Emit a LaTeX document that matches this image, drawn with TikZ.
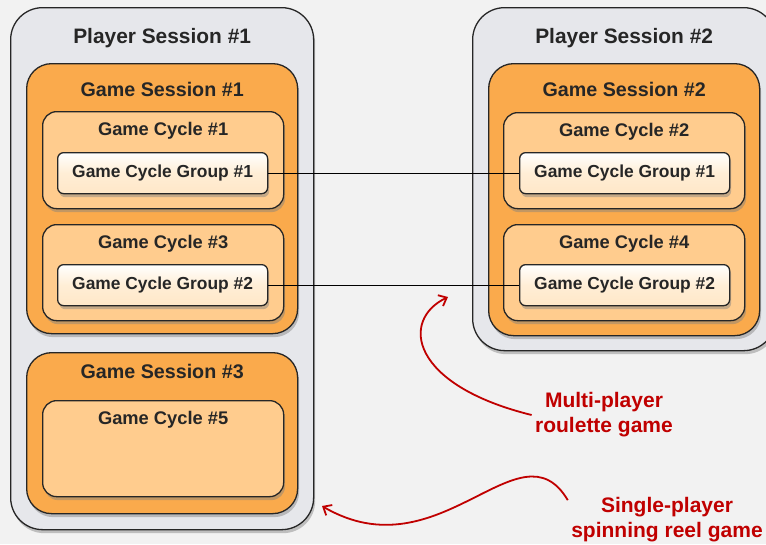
\documentclass[tikz,border=0pt]{standalone}
\usepackage{fontspec}
\setmainfont{Liberation Sans}
\usepackage{xcolor}
\usepackage{tikz}
\usetikzlibrary{positioning, arrows.meta, shadows}
\definecolor{bgGrey}{RGB}{242,242,242}
\definecolor{psGrey}{RGB}{230,231,235}
\definecolor{gsOrange}{RGB}{250,170,76}
\definecolor{gcOrange}{RGB}{255,204,142}
\definecolor{grpCream}{RGB}{255,238,214}
\definecolor{edgeGrey}{RGB}{38,38,38}
\definecolor{noteRed}{RGB}{192,0,0}

\begin{document}
\begin{tikzpicture}[
    x=1pt, y=-1pt,
    box/.style={draw=edgeGrey, line width=1.3pt, anchor=north west, inner sep=0pt,
        drop shadow={shadow xshift=1.5pt, shadow yshift=-3.5pt, opacity=0.45}},
    psbox/.style={box, fill=psGrey, rounded corners=32pt, minimum width=303pt},
    gsbox/.style={box, fill=gsOrange, rounded corners=25pt, minimum width=271pt},
    gcbox/.style={box, fill=gcOrange, rounded corners=14pt, minimum width=241pt},
    grpbox/.style={box, top color=white, bottom color=grpCream!80!gcOrange, middle color=grpCream,
        rounded corners=6pt, minimum width=210pt, minimum height=41pt,
        font=\fontsize{17.4}{20}\selectfont\bfseries, text=edgeGrey},
    pstitle/.style={font=\fontsize{20.9}{25}\selectfont\bfseries, text=edgeGrey},
    gstitle/.style={font=\fontsize{19.7}{24}\selectfont\bfseries, text=edgeGrey},
    gctitle/.style={font=\fontsize{18.3}{22}\selectfont\bfseries, text=edgeGrey},
    note/.style={font=\fontsize{21}{25}\selectfont\bfseries, text=noteRed, align=center},
    link/.style={draw=black, line width=1.2pt},
    notearrow/.style={draw=noteRed, line width=1.8pt, -{Straight Barb[length=7pt, width=12pt]}}
]
\path[use as bounding box, fill=bgGrey] (0,0) rectangle (766,544);
\clip (0,0) rectangle (766,544);

% Player session 1
\node[psbox, minimum height=522pt] (ps1) at (10,7) {};
\node[pstitle, below=18pt of ps1.north] (ps1title) {Player Session \#1};
\node[gsbox, minimum height=270pt] (gs1) at (26,63) {};
\node[gstitle, below=16pt of gs1.north] (gs1title) {Game Session \#1};
\node[gcbox, minimum height=97pt] (gc1) at (42,111) {};
\node[gctitle, below=8pt of gc1.north] (gc1title) {Game Cycle \#1};
\node[grpbox] (gcg1l) at (57,152) {Game Cycle Group \#1};
\node[gcbox, minimum height=96pt] (gc3) at (42,224) {};
\node[gctitle, below=8pt of gc3.north] (gc3title) {Game Cycle \#3};
\node[grpbox] (gcg2l) at (57,264) {Game Cycle Group \#2};
\node[gsbox, minimum height=161pt] (gs3) at (26,352) {};
\node[gstitle, below=9pt of gs3.north] (gs3title) {Game Session \#3};
\node[gcbox, minimum height=96pt] (gc5) at (42,400) {};
\node[gctitle, below=8pt of gc5.north] (gc5title) {Game Cycle \#5};

% Player session 2
\node[psbox, minimum height=343pt] (ps2) at (472,7) {};
\node[pstitle, below=18pt of ps2.north] (ps2title) {Player Session \#2};
\node[gsbox, minimum height=272pt] (gs2) at (488,63) {};
\node[gstitle, below=16pt of gs2.north] (gs2title) {Game Session \#2};
\node[gcbox, minimum height=96pt] (gc2) at (503,112) {};
\node[gctitle, below=8pt of gc2.north] (gc2title) {Game Cycle \#2};
\node[grpbox] (gcg1r) at (519,152) {Game Cycle Group \#1};
\node[gcbox, minimum height=96pt] (gc4) at (503,224) {};
\node[gctitle, below=8pt of gc4.north] (gc4title) {Game Cycle \#4};
\node[grpbox] (gcg2r) at (519,264) {Game Cycle Group \#2};

% Links
\draw[link] (gcg1l.east) -- (gcg1r.west);
\draw[link] (gcg2l.east) -- (gcg2r.west);

% Notes
\node[note] (multi) at (604,415) {Multi-player\\roulette game};
\node[note] (single) at (667,520) {Single-player\\spinning reel game};
\coordinate (multitip) at (448,297);
\coordinate (singletip) at (322,506);
\draw[notearrow] (multi.west) .. controls (410,385) and (400,320) .. (multitip);
\draw[notearrow] ([yshift=-6pt]single.north west) .. controls (520,420) and (440,575) .. (singletip);
\end{tikzpicture}
\end{document}
